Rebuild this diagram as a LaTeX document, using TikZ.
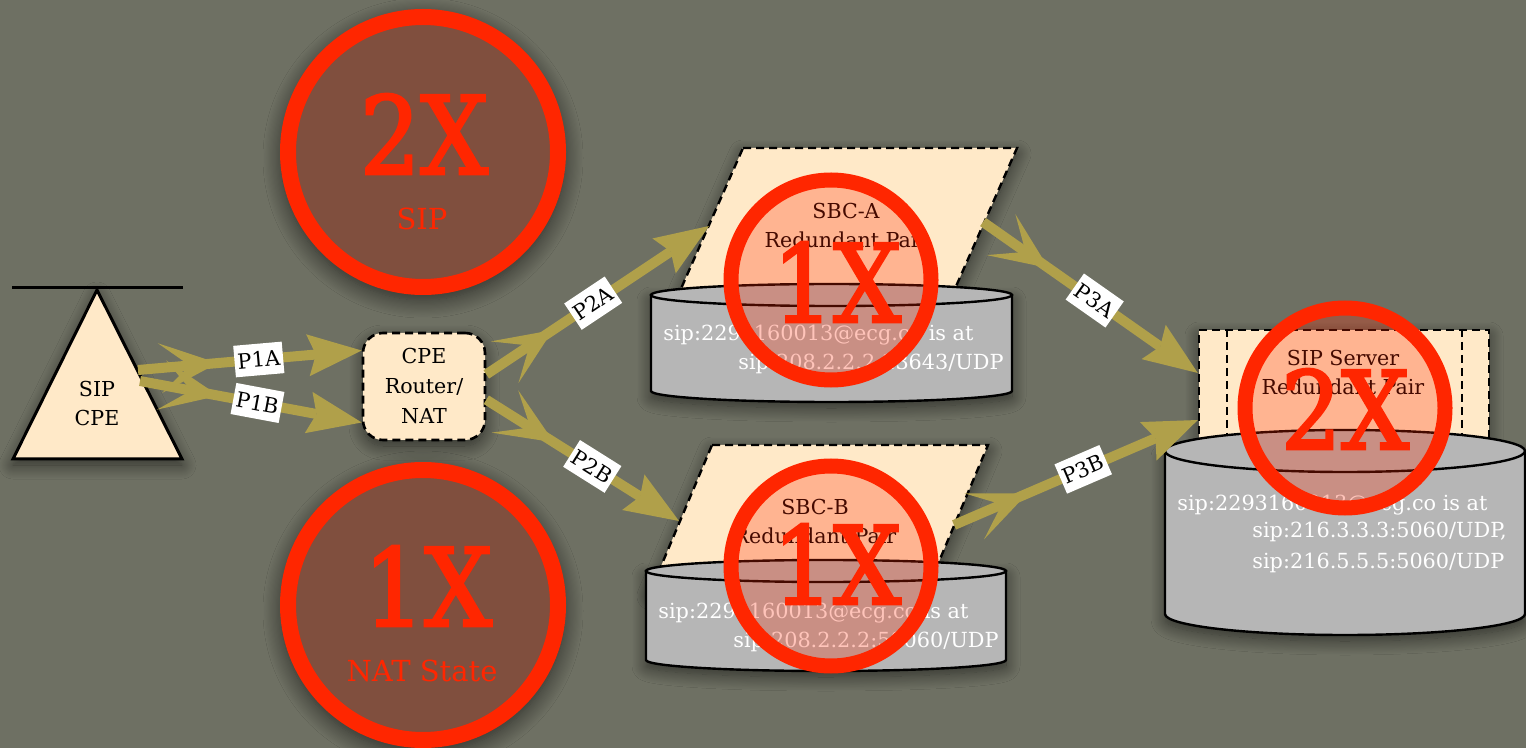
\documentclass[tikz,border=0pt]{standalone}
\usepackage{fontspec}
\setmainfont{DejaVu Serif}
\newfontfamily\countfont{DejaVu Serif}[FakeBold=2.5, FakeStretch=0.88]
\usetikzlibrary{arrows.meta, decorations.markings, shadows.blur}

\definecolor{bg}{RGB}{110,112,99}
\definecolor{beige}{RGB}{255,233,200}
\definecolor{olive}{RGB}{176,160,74}
\definecolor{alarm}{RGB}{255,38,0}
\definecolor{discin}{RGB}{128,79,62}
\definecolor{discout}{RGB}{96,55,41}
\definecolor{drumgray}{RGB}{182,182,182}

\pgfdeclareradialshading{discfill}{\pgfpoint{0bp}{0bp}}{color(0bp)=(discin); color(34bp)=(discin); color(47bp)=(discout); color(50bp)=(discout)}

\tikzset{
  softshadow/.style={blur shadow={shadow xshift=0pt, shadow yshift=-3pt, shadow blur radius=7pt, shadow blur steps=16, shadow opacity=55}},
  nodetext/.style={align=center, text=black, font=\fontsize{10.3}{14.5}\selectfont, inner sep=0pt},
  cpebox/.style={draw=black, line width=1.3pt, dash pattern=on 4pt off 2.5pt, fill=beige,
    rounded corners=10pt, minimum width=61pt, minimum height=53.5pt, align=center,
    font=\fontsize{10.3}{15}\selectfont, softshadow},
  gatebox/.style={draw=black, line width=1.2pt, dash pattern=on 4pt off 2.5pt, fill=beige, softshadow},
  drumbody/.style={draw=black, line width=1.2pt, fill=drumgray, softshadow},
  drumtop/.style={draw=black, line width=1.2pt, fill=drumgray},
  addr/.style={text=white, font=\fontsize{10.4}{12}\selectfont, inner sep=0pt, anchor=base west},
  countdisc/.style={circle, minimum size=135pt, inner sep=0pt, draw=alarm, line width=8pt, shading=discfill},
  bigcount/.style={text=alarm, font=\countfont\fontsize{54}{54}\selectfont, inner sep=0pt},
  subcount/.style={text=alarm, font=\fontsize{14.5}{15}\selectfont, inner sep=0pt},
  discshadow/.style={blur shadow={shadow xshift=0pt, shadow yshift=-3pt, shadow blur radius=9pt, shadow blur steps=16, shadow opacity=60}},
  flagring/.style={circle, minimum size=100pt, inner sep=0pt, draw=alarm, line width=7.5pt,
    fill=alarm, fill opacity=0.27},
  flow/.style={draw=olive, line width=5pt,
    -{Stealth[length=27pt, width=21pt, inset=4pt, line width=0pt]},
    postaction={decorate, decoration={markings,
      mark=at position 40pt with {\arrow{Stealth[length=29pt, width=25pt, inset=15pt, line width=0pt]}}}}},
  tag/.style={fill=white, text=black, font=\fontsize{10.5}{10.5}\selectfont, inner xsep=1.5pt, inner ysep=4pt},
}

\begin{document}
\begin{tikzpicture}[x=0.5pt, y=-0.5pt]
\useasboundingbox (0,0) rectangle (1526,748);
\fill[bg] (0,0) rectangle (1526,748);

% ---- counters: SIP (2X) and NAT state (1X)
\path[discshadow] (423,152) circle[radius=71pt];
\node[countdisc] (sipdisc) at (423,152) {};
\node[bigcount] (sipx) at (424,134) {2X};
\node[subcount] (siplbl) at (422,219) {SIP};

\path[discshadow] (423,605) circle[radius=71pt];
\node[countdisc] (natdisc) at (423,605) {};
\node[bigcount] (natx) at (428,586) {1X};
\node[subcount] (natlbl) at (422,671) {NAT State};

% ---- SIP CPE (triangle on a bar)
\draw[line width=1.5pt, fill=beige, softshadow] (97,290) -- (182,459) -- (13,459) -- cycle;
\draw[line width=1.5pt] (12,288) -- (183,288);
\node[nodetext] (sipcpe) at (97,404) {SIP\\CPE};
\coordinate (sipcpe-a) at (138,370);
\coordinate (sipcpe-b) at (140,381);

% ---- CPE router / NAT
\node[cpebox] (cpe) at (424,386.5) {CPE\\Router/\\NAT};

% ---- SBC-A
\draw[gatebox] (743,148) -- (1017,148) -- (950,300) -- (676,300) -- cycle;
\node[nodetext] (sbca) at (846,226) {SBC-A\\Redundant Pair};
\coordinate (sbca-in) at (709,226);
\coordinate (sbca-out) at (983,222);
\path[drumbody] (651,295) -- (651,391) .. controls (651,397.1) and (731.8,402) .. (831.5,402)
  .. controls (931.2,402) and (1012,397.1) .. (1012,391) -- (1012,295) -- cycle;
\draw[drumtop] (831.5,295) ellipse [x radius=90.25pt, y radius=5.5pt];
\node[addr] (sbca-reg1) at (663,341) {sip:2293160013@ecg.co is at};
\node[addr] (sbca-reg2) at (738,370) {sip:208.2.2.2:23643/UDP};

% ---- SBC-B
\draw[gatebox] (712,445) -- (988,445) -- (927,590) -- (651,590) -- cycle;
\node[nodetext] (sbcb) at (815,522) {SBC-B\\Redundant Pair};
\coordinate (sbcb-in) at (679,521);
\coordinate (sbcb-out) at (954,525);
\path[drumbody] (646,571) -- (646,660) .. controls (646,666.1) and (726.6,671) .. (826,671)
  .. controls (925.4,671) and (1006,666.1) .. (1006,660) -- (1006,571) -- cycle;
\draw[drumtop] (826,571) ellipse [x radius=90pt, y radius=5.5pt];
\node[addr] (sbcb-reg1) at (658,618) {sip:2293160013@ecg.co is at};
\node[addr] (sbcb-reg2) at (733,647) {sip:208.2.2.2:58060/UDP};

% ---- SIP server pair
\node[gatebox, minimum width=145pt, minimum height=65pt, inner sep=0pt] (srv) at (1344,395) {};
\draw[line width=1.2pt, dash pattern=on 4pt off 2.5pt] ([xshift=14.5pt]srv.north west) -- ([xshift=14.5pt]srv.south west);
\draw[line width=1.2pt, dash pattern=on 4pt off 2.5pt] ([xshift=-14pt]srv.north east) -- ([xshift=-14pt]srv.south east);
\node[nodetext] (srvlbl) at (1343,373) {SIP Server\\Redundant Pair};
\path[drumbody] (1165,451) -- (1165,614) .. controls (1165,625.6) and (1245.6,635) .. (1345,635)
  .. controls (1444.4,635) and (1525,625.6) .. (1525,614) -- (1525,451) -- cycle;
\draw[drumtop] (1345,451) ellipse [x radius=90pt, y radius=10.5pt];
\node[addr] (srv-reg1) at (1177,510) {sip:2293160013@ecg.co is at};
\node[addr] (srv-reg2) at (1252,538) {sip:216.3.3.3:5060/UDP,};
\node[addr] (srv-reg3) at (1252,568) {sip:216.5.5.5:5060/UDP};

% ---- signalling paths
\draw[flow] (sipcpe-a) -- node[tag, sloped, pos=0.54] {P1A} (cpe.150);
\draw[flow] (sipcpe-b) -- node[tag, sloped, pos=0.53] {P1B} (cpe.210);
\draw[flow] (cpe.11) -- node[tag, sloped, pos=0.48] {P2A} (sbca-in);
\draw[flow] (cpe.-12) -- node[tag, sloped, pos=0.55] {P2B} (sbcb-in);
\draw[flow] (sbca-out) -- node[tag, sloped, pos=0.52] {P3A} ([yshift=11pt]srv.west);
\draw[flow] (sbcb-out) -- node[tag, sloped, pos=0.53] {P3B} ([yshift=-12.5pt]srv.west);

% ---- redundancy flags
\node[flagring] (sbca-flag) at (831,280) {};
\node[bigcount] (sbca-x) at (837,282) {1X};
\node[flagring] (sbcb-flag) at (831,566) {};
\node[bigcount] (sbcb-x) at (837,564) {1X};
\node[flagring] (srv-flag) at (1345,408) {};
\node[bigcount] (srv-x) at (1345,409) {2X};
\end{tikzpicture}
\end{document}
